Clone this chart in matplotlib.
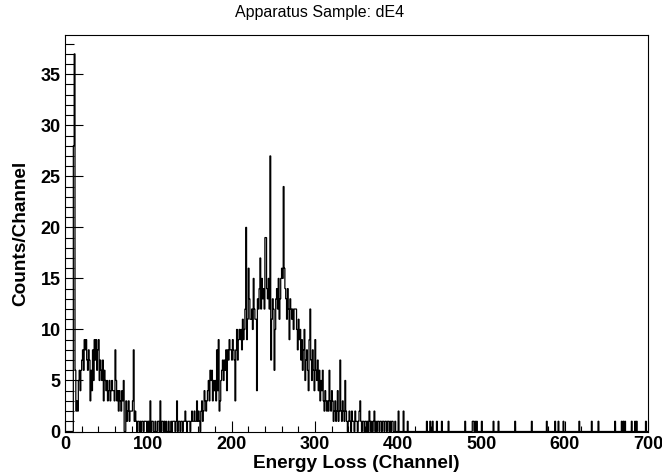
import numpy as np
import matplotlib
matplotlib.use("Agg")
import matplotlib.pyplot as plt
from matplotlib.ticker import MultipleLocator

plt.rcParams['font.family'] = ['Liberation Sans', 'DejaVu Sans']

# ---- data: counts per channel ----
n_channels = 700
first_block = [0, 0, 0, 0, 0, 0, 0, 0, 0, 0, 28, 37]          # ch 0-11
low_region = [                                                  # ch 12-99
    6, 2, 3, 2, 5, 6, 4, 6,
    7, 8, 6, 9, 8, 9, 7, 6, 8, 7,
    3, 6, 4, 8, 5, 9, 7, 9, 6, 8,
    9, 5, 7, 6, 5, 7, 3, 6, 5, 4,
    5, 3, 4, 5, 3, 4, 5, 4, 4, 3,
    8, 5, 3, 4, 2, 4, 3, 2, 4, 3,
    5, 0, 0, 3, 1, 2, 3, 1, 2, 2,
    2, 3, 8, 1, 2, 1, 0, 1, 1, 0,
    1, 0, 1, 1, 0, 1, 1, 1, 0, 1,
]
valley_region = [                                               # ch 100-159
    1, 0, 3, 0, 1, 1, 0, 0, 1, 0,
    0, 1, 1, 0, 3, 0, 1, 1, 0, 1,
    0, 1, 0, 0, 1, 0, 0, 1, 0, 1,
    1, 1, 0, 1, 3, 0, 1, 1, 0, 1,
    1, 0, 1, 1, 2, 1, 0, 1, 1, 1,
    0, 1, 2, 1, 1, 2, 1, 1, 3, 1,
]
peak_region = [                                                 # ch 160-339
    2, 1, 0, 2, 3, 1, 2, 4, 3, 2,
    3, 4, 5, 3, 6, 5, 6, 3, 5, 4,
    5, 3, 8, 4, 9, 2, 3, 5, 6, 7,
    5, 7, 6, 8, 4, 8, 7, 9, 8, 8,
    7, 9, 8, 7, 3, 8, 10, 7, 9, 10,
    9, 10, 8, 11, 9, 10, 12, 20, 9, 11,
    16, 13, 11, 11, 12, 10, 15, 12, 11, 11,
    4, 13, 12, 14, 17, 12, 15, 13, 14, 12,
    19, 19, 14, 13, 15, 12, 27, 7, 11, 13,
    12, 6, 10, 13, 14, 12, 15, 11, 13, 15,
    16, 15, 24, 16, 14, 13, 11, 14, 12, 9,
    13, 12, 11, 12, 10, 12, 12, 12, 10, 8,
    11, 9, 10, 7, 9, 6, 8, 10, 5, 7,
    8, 6, 4, 9, 12, 7, 5, 8, 6, 4,
    9, 6, 5, 7, 4, 6, 3, 5, 4, 6,
    3, 2, 4, 3, 2, 3, 2, 6, 3, 2,
    4, 3, 1, 2, 3, 1, 2, 4, 1, 2,
    7, 2, 1, 3, 2, 1, 5, 2, 1, 0,
]
tail_region = [                                                 # ch 340-409
    1, 2, 1, 0, 2, 1, 1, 0, 2, 1,
    1, 0, 1, 2, 3, 1, 0, 1, 1, 0,
    1, 1, 0, 1, 0, 2, 1, 0, 1, 0,
    1, 2, 0, 1, 0, 1, 1, 0, 1, 1,
    0, 1, 1, 0, 1, 1, 0, 1, 1, 0,
    1, 0, 1, 1, 0, 0, 1, 0, 0, 0,
    2, 0, 0, 0, 0, 0, 2, 0, 0, 0,
]
sparse_channels = [411, 434, 438, 441, 446, 452, 460, 480, 489, 490, 492, 494,
                   500, 514, 520, 540, 560, 578, 588, 592, 598, 617, 632, 640,
                   660, 668, 670, 672, 680, 684, 686, 697]
sparse_counts = [1] * len(sparse_channels)

dense = first_block + low_region + valley_region + peak_region + tail_region
counts = np.zeros(n_channels)
counts[:len(dense)] = dense
counts[sparse_channels] = sparse_counts
edges = np.arange(n_channels + 1)

title = "Apparatus Sample: dE4"
xlabel = "Energy Loss (Channel)"
ylabel = "Counts/Channel"

# ---- figure ----
W, H = 662, 474
fig = plt.figure(figsize=(W / 100, H / 100), dpi=100)
ax = fig.add_axes([65 / W, 1 - 431.5 / H, 583 / W, 396.5 / H])

ax.stairs(counts, edges, color='black', lw=0.9, baseline=0)

ax.set_xlim(0, 700)
ax.set_ylim(0, counts.max() * 1.05)

ax.xaxis.set_major_locator(MultipleLocator(100))
ax.xaxis.set_minor_locator(MultipleLocator(20))
ax.yaxis.set_major_locator(MultipleLocator(5))
ax.yaxis.set_minor_locator(MultipleLocator(1))

ax.tick_params(axis='both', which='both', direction='in', top=False, right=False,
               width=0.8, colors='black')
ax.tick_params(axis='x', which='major', length=8, pad=3, labelsize=13)
ax.tick_params(axis='x', which='minor', length=4)
ax.tick_params(axis='y', which='major', length=13, pad=3, labelsize=13)
ax.tick_params(axis='y', which='minor', length=6.5)
for lab in ax.get_xticklabels() + ax.get_yticklabels():
    lab.set_fontweight('bold')

for s in ax.spines.values():
    s.set_linewidth(0.8)

ax.set_xlabel(xlabel, fontsize=13.7, fontweight='bold', labelpad=2)
ax.set_ylabel(ylabel, fontsize=13.7, fontweight='bold', labelpad=8)

fig.text(320 / W, 1 - 13 / H, title, ha='center', va='center', fontsize=11.5)

fig.savefig("out.png", dpi=100)
